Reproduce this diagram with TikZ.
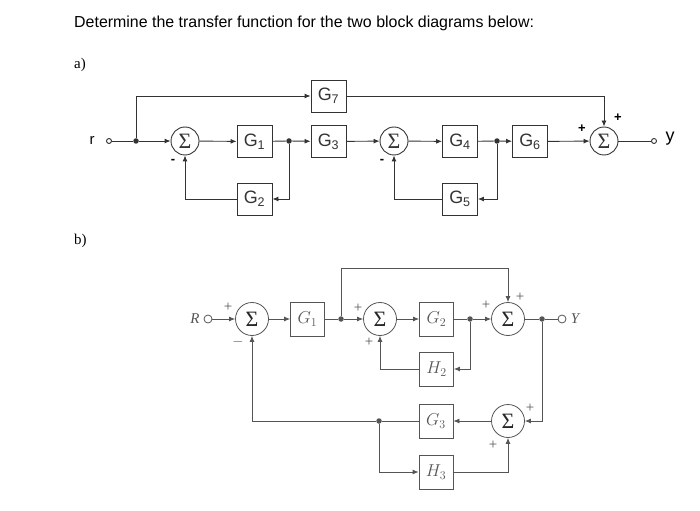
\documentclass[tikz,border=0pt]{standalone}
\usepackage{fontspec}
\setmainfont{Liberation Serif}
\newfontfamily\arialf{Liberation Sans}
\usetikzlibrary{arrows.meta}
\definecolor{lnA}{HTML}{333333}
\definecolor{lnB}{HTML}{555555}
\tikzset{
  arr/.style={-{Latex[length=6bp,width=5bp]}},
  blkA/.style={draw=lnA, line width=0.9bp, minimum width=35bp, minimum height=32bp, inner sep=0, font=\arialf\fontsize{18}{18}\selectfont},
  sumA/.style={draw=lnA, line width=0.9bp, circle, minimum size=28bp, inner sep=0, font=\fontsize{22}{22}\selectfont},
  blkB/.style={draw=lnB, line width=0.8bp, minimum width=34bp, minimum height=34bp, inner sep=0, font=\fontsize{17}{17}\selectfont, text=lnB},
  sumB/.style={draw=lnB, line width=0.8bp, circle, minimum size=33bp, inner sep=0, font=\fontsize{22}{22}\selectfont, text=black!85},
  dotn/.style={circle, fill, draw=none, inner sep=0, minimum size=5.5bp},
  termn/.style={circle, draw, inner sep=0, minimum size=5bp, fill=white},
  sgnA/.style={font=\arialf\bfseries\fontsize{13}{13}\selectfont},
  sgnB/.style={font=\fontsize{15}{15}\selectfont, text=lnB},
}
\begin{document}
\begin{tikzpicture}[x=1bp,y=-1bp]
\useasboundingbox (0,0) rectangle (700,511);
\node[anchor=base west, inner sep=0, font=\arialf\fontsize{16}{16}\selectfont] (title) at (74,28) {Determine the transfer function for the two block diagrams below:};
\node[anchor=base west, inner sep=0, font=\fontsize{15}{15}\selectfont] (la) at (74,69) {a)};
\node[anchor=base west, inner sep=0, font=\fontsize{15}{15}\selectfont] (lb) at (74,245) {b)};

% ---------- a ----------
\begin{scope}[draw=lnA, line width=0.9bp, color=lnA]
\node[font=\arialf\fontsize{15}{15}\selectfont, text=black] (rlab) at (92,140) {r};
\node[termn] (ra) at (109,141) {};
\node[dotn] (ja) at (136,141) {};
\node[sumA] (sa1) at (185,141) {Σ};
\node[blkA] (g1) at (254.5,141.5) {G\textsubscript{1}};
\node[dotn] (jb) at (289,141) {};
\node[blkA] (g3) at (328.5,141.5) {G\textsubscript{3}};
\node[sumA] (sa2) at (394,141) {Σ};
\node[blkA] (g4) at (460,141.5) {G\textsubscript{4}};
\node[dotn] (jc) at (497,141) {};
\node[blkA] (g6) at (530,141.5) {G\textsubscript{6}};
\node[sumA] (sa3) at (604,141) {Σ};
\node[termn] (ya) at (654,141) {};
\node[font=\arialf\fontsize{18}{18}\selectfont, text=black] (ylab) at (670,139) {y};
\node[blkA] (g7) at (328.5,96) {G\textsubscript{7}};
\node[blkA] (g2) at (254.5,199) {G\textsubscript{2}};
\node[blkA] (g5) at (460,199) {G\textsubscript{5}};

\draw (ra) -- (ja);
\draw[arr] (ja) -- (sa1);
\draw[arr] (sa1) -- (g1);
\draw (g1) -- (jb);
\draw[arr] (jb) -- (g3);
\draw[arr] (g3) -- (sa2);
\draw[arr] (sa2) -- (g4);
\draw (g4) -- (jc);
\draw[arr] (jc) -- (g6);
\draw[arr] (g6) -- (sa3);
\draw (sa3) -- (ya);
\draw[arr] (ja) |- (g7);
\draw[arr] (g7) -| (sa3);
\draw[arr] (jb) |- (g2);
\draw[arr] (g2) -| (sa1);
\draw[arr] (jc) |- (g5);
\draw[arr] (g5) -| (sa2);

\node[sgnA, text=black] (m1) at (173,161) {-};
\node[sgnA, text=black] (m2) at (382,161) {-};
\node[sgnA, text=black] (p1) at (582,129) {+};
\node[sgnA, text=black] (p2) at (618,118) {+};
\end{scope}

% ---------- b ----------
\begin{scope}[draw=lnB, line width=0.8bp, color=lnB]
\node[font=\itshape\fontsize{15}{15}\selectfont, text=lnB] (rlabb) at (195,319) {R};
\node[termn, minimum size=8bp] (rb) at (208,319) {};
\node[sumB] (sb1) at (252,319) {Σ};
\node[blkB] (bg1) at (307.5,319) {$G_1$};
\node[dotn] (jd) at (341,319) {};
\node[sumB] (sb2) at (380,319) {Σ};
\node[blkB] (bg2) at (436.5,319) {$G_2$};
\node[dotn] (je) at (470,319) {};
\node[sumB] (sb3) at (508,319) {Σ};
\node[dotn] (jf) at (542,319) {};
\node[termn, minimum size=8bp] (yb) at (562,319) {};
\node[font=\itshape\fontsize{15}{15}\selectfont, text=lnB] (ylabb) at (575,319) {Y};
\node[blkB] (bh2) at (436.5,369) {$H_2$};
\node[blkB] (bg3) at (436,421) {$G_3$};
\node[dotn] (jg) at (379,421) {};
\node[sumB] (sb4) at (508,421) {Σ};
\node[blkB] (bh3) at (436,472) {$H_3$};
\coordinate (topb) at (341,268);

\draw[arr] (rb) -- (sb1);
\draw[arr] (sb1) -- (bg1);
\draw (bg1) -- (jd);
\draw[arr] (jd) -- (sb2);
\draw[arr] (sb2) -- (bg2);
\draw (bg2) -- (je);
\draw[arr] (je) -- (sb3);
\draw (sb3) -- (jf);
\draw (jf) -- (yb);
\draw[arr] (jd) -- (topb) -| (sb3);
\draw[arr] (je) |- (bh2);
\draw[arr] (bh2) -| (sb2);
\draw[arr] (jf) |- (sb4);
\draw[arr] (sb4) -- (bg3);
\draw (bg3) -- (jg);
\draw[arr] (jg) -| (sb1);
\draw[arr] (jg) |- (bh3);
\draw[arr] (bh3) -| (sb4);

\node[sgnB] (q1) at (228,307) {+};
\node[sgnB] (q2) at (238,342) {$-$};
\node[sgnB] (q3) at (358,308) {+};
\node[sgnB] (q4) at (369,342) {+};
\node[sgnB] (q5) at (486,305) {+};
\node[sgnB] (q6) at (520,297) {+};
\node[sgnB] (q7) at (530,408) {+};
\node[sgnB] (q8) at (493,445) {+};
\end{scope}
\end{tikzpicture}
\end{document}
